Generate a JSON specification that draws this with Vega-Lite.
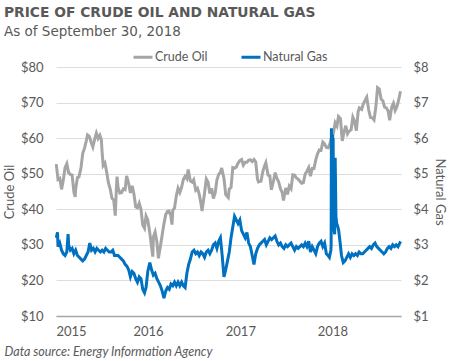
{
"$schema": "https://vega.github.io/schema/vega-lite/v6.json",
"width": 345, "height": 249,
"autosize": {"type": "none"},
"padding": {"left": 56, "top": 67, "right": 49, "bottom": 45},
"background": "white",
"title": {"text": "PRICE OF CRUDE OIL AND NATURAL GAS", "subtitle": "As of September 30, 2018", "anchor": "start", "frame": "group", "dx": -52, "offset": 8,
  "font": "DejaVu Sans", "fontSize": 13.8, "fontWeight": "bold", "color": "#595959",
  "subtitleFont": "DejaVu Sans", "subtitleFontSize": 13.5, "subtitleColor": "#595959", "subtitlePadding": 5},
"datasets": {
"oil": [
{"d":"2015-01-02","v":52.7},{"d":"2015-01-09","v":48.4},{"d":"2015-01-16","v":48.7},{"d":"2015-01-23","v":45.6},{"d":"2015-01-30","v":48.2},
{"d":"2015-02-06","v":51.7},{"d":"2015-02-13","v":52.8},{"d":"2015-02-20","v":50.3},{"d":"2015-02-27","v":49.8},
{"d":"2015-03-06","v":49.6},{"d":"2015-03-13","v":44.8},{"d":"2015-03-18","v":43.5},{"d":"2015-03-20","v":45.7},{"d":"2015-03-27","v":48.9},
{"d":"2015-04-02","v":49.1},{"d":"2015-04-10","v":51.6},{"d":"2015-04-17","v":55.7},{"d":"2015-04-24","v":57.2},
{"d":"2015-05-01","v":59.2},{"d":"2015-05-06","v":60.9},{"d":"2015-05-13","v":60.5},{"d":"2015-05-20","v":58.9},{"d":"2015-05-27","v":57.5},
{"d":"2015-06-03","v":59.6},{"d":"2015-06-10","v":61.4},{"d":"2015-06-17","v":59.9},{"d":"2015-06-24","v":60.8},{"d":"2015-06-30","v":59.5},
{"d":"2015-07-02","v":56.9},{"d":"2015-07-07","v":52.3},{"d":"2015-07-14","v":53.0},{"d":"2015-07-21","v":50.4},{"d":"2015-07-28","v":47.4},
{"d":"2015-08-04","v":45.7},{"d":"2015-08-11","v":43.1},{"d":"2015-08-18","v":42.6},{"d":"2015-08-24","v":38.2},{"d":"2015-08-28","v":45.2},{"d":"2015-08-31","v":49.2},
{"d":"2015-09-04","v":46.1},{"d":"2015-09-11","v":44.6},{"d":"2015-09-18","v":44.7},{"d":"2015-09-25","v":45.7},
{"d":"2015-10-02","v":45.5},{"d":"2015-10-08","v":49.4},{"d":"2015-10-16","v":47.3},{"d":"2015-10-23","v":44.6},{"d":"2015-10-30","v":46.6},
{"d":"2015-11-06","v":44.3},{"d":"2015-11-13","v":40.7},{"d":"2015-11-20","v":40.4},{"d":"2015-11-27","v":41.7},
{"d":"2015-12-04","v":40.0},{"d":"2015-12-11","v":35.6},{"d":"2015-12-18","v":34.7},{"d":"2015-12-24","v":38.1},{"d":"2015-12-31","v":37.0},
{"d":"2016-01-08","v":33.3},{"d":"2016-01-15","v":29.4},{"d":"2016-01-20","v":26.7},{"d":"2016-01-22","v":32.2},{"d":"2016-01-29","v":33.6},
{"d":"2016-02-05","v":30.9},{"d":"2016-02-11","v":26.2},{"d":"2016-02-19","v":29.6},{"d":"2016-02-26","v":32.8},
{"d":"2016-03-04","v":35.9},{"d":"2016-03-11","v":38.5},{"d":"2016-03-18","v":39.4},{"d":"2016-03-24","v":39.5},{"d":"2016-03-31","v":38.3},
{"d":"2016-04-05","v":35.7},{"d":"2016-04-08","v":39.7},{"d":"2016-04-15","v":40.4},{"d":"2016-04-22","v":43.7},{"d":"2016-04-29","v":45.9},
{"d":"2016-05-06","v":44.7},{"d":"2016-05-13","v":46.2},{"d":"2016-05-20","v":48.4},{"d":"2016-05-27","v":49.3},
{"d":"2016-06-03","v":48.6},{"d":"2016-06-08","v":51.2},{"d":"2016-06-17","v":47.9},{"d":"2016-06-24","v":47.6},{"d":"2016-06-30","v":48.3},
{"d":"2016-07-08","v":45.4},{"d":"2016-07-15","v":45.9},{"d":"2016-07-22","v":44.2},{"d":"2016-07-29","v":41.6},
{"d":"2016-08-02","v":39.5},{"d":"2016-08-12","v":44.5},{"d":"2016-08-19","v":48.5},{"d":"2016-08-26","v":47.6},
{"d":"2016-09-02","v":44.4},{"d":"2016-09-09","v":45.9},{"d":"2016-09-16","v":43.0},{"d":"2016-09-23","v":44.5},{"d":"2016-09-30","v":48.2},
{"d":"2016-10-07","v":49.8},{"d":"2016-10-14","v":50.4},{"d":"2016-10-19","v":51.6},{"d":"2016-10-28","v":48.7},
{"d":"2016-11-04","v":44.1},{"d":"2016-11-14","v":43.3},{"d":"2016-11-18","v":45.7},{"d":"2016-11-25","v":46.1},
{"d":"2016-12-02","v":51.7},{"d":"2016-12-09","v":51.5},{"d":"2016-12-16","v":51.9},{"d":"2016-12-23","v":53.0},{"d":"2016-12-30","v":53.7},
{"d":"2017-01-06","v":54.0},{"d":"2017-01-13","v":52.4},{"d":"2017-01-20","v":53.2},{"d":"2017-01-27","v":53.2},
{"d":"2017-02-03","v":53.8},{"d":"2017-02-10","v":53.9},{"d":"2017-02-17","v":53.4},{"d":"2017-02-24","v":54.0},
{"d":"2017-03-03","v":53.3},{"d":"2017-03-10","v":48.5},{"d":"2017-03-14","v":47.7},{"d":"2017-03-24","v":47.9},{"d":"2017-03-31","v":50.6},
{"d":"2017-04-07","v":52.2},{"d":"2017-04-12","v":53.1},{"d":"2017-04-21","v":49.6},{"d":"2017-04-28","v":49.3},
{"d":"2017-05-04","v":45.5},{"d":"2017-05-12","v":47.8},{"d":"2017-05-19","v":50.3},{"d":"2017-05-25","v":48.9},
{"d":"2017-06-02","v":47.7},{"d":"2017-06-09","v":45.8},{"d":"2017-06-16","v":44.7},{"d":"2017-06-21","v":42.5},{"d":"2017-06-30","v":46.0},
{"d":"2017-07-07","v":44.2},{"d":"2017-07-14","v":46.5},{"d":"2017-07-21","v":45.8},{"d":"2017-07-28","v":49.7},
{"d":"2017-08-04","v":49.6},{"d":"2017-08-11","v":48.8},{"d":"2017-08-18","v":48.5},{"d":"2017-08-25","v":47.9},
{"d":"2017-09-01","v":47.3},{"d":"2017-09-08","v":47.5},{"d":"2017-09-15","v":49.9},{"d":"2017-09-22","v":50.7},{"d":"2017-09-29","v":51.7},
{"d":"2017-10-06","v":49.3},{"d":"2017-10-13","v":51.5},{"d":"2017-10-20","v":51.5},{"d":"2017-10-27","v":53.9},
{"d":"2017-11-03","v":55.6},{"d":"2017-11-10","v":56.7},{"d":"2017-11-17","v":56.6},{"d":"2017-11-24","v":58.9},
{"d":"2017-12-01","v":58.4},{"d":"2017-12-08","v":57.4},{"d":"2017-12-15","v":57.3},{"d":"2017-12-22","v":58.4},{"d":"2017-12-29","v":60.4},
{"d":"2018-01-05","v":61.4},{"d":"2018-01-12","v":64.3},{"d":"2018-01-19","v":63.4},{"d":"2018-01-25","v":66.1},
{"d":"2018-02-02","v":65.5},{"d":"2018-02-09","v":59.2},{"d":"2018-02-16","v":61.7},{"d":"2018-02-23","v":63.5},
{"d":"2018-03-02","v":61.2},{"d":"2018-03-09","v":62.0},{"d":"2018-03-16","v":62.3},{"d":"2018-03-23","v":65.9},{"d":"2018-03-29","v":64.9},
{"d":"2018-04-06","v":62.1},{"d":"2018-04-13","v":67.4},{"d":"2018-04-18","v":68.5},{"d":"2018-04-27","v":68.1},
{"d":"2018-05-04","v":69.7},{"d":"2018-05-11","v":70.7},{"d":"2018-05-17","v":71.5},{"d":"2018-05-25","v":67.9},
{"d":"2018-06-01","v":65.8},{"d":"2018-06-08","v":65.7},{"d":"2018-06-15","v":65.1},{"d":"2018-06-22","v":68.6},{"d":"2018-06-29","v":74.2},
{"d":"2018-07-06","v":73.8},{"d":"2018-07-13","v":71.0},{"d":"2018-07-20","v":70.5},{"d":"2018-07-27","v":68.7},
{"d":"2018-08-03","v":68.5},{"d":"2018-08-10","v":67.6},{"d":"2018-08-16","v":65.0},{"d":"2018-08-24","v":68.7},{"d":"2018-08-31","v":69.8},
{"d":"2018-09-07","v":67.8},{"d":"2018-09-14","v":68.9},{"d":"2018-09-21","v":70.8},{"d":"2018-09-28","v":73.2}
],
"gas": [
{"d":"2015-01-02","v":3.2},{"d":"2015-01-07","v":3.35},{"d":"2015-01-09","v":2.95},{"d":"2015-01-16","v":3.05},{"d":"2015-01-23","v":2.85},{"d":"2015-01-30","v":2.75},
{"d":"2015-02-06","v":2.7},{"d":"2015-02-13","v":2.8},{"d":"2015-02-18","v":3.3},{"d":"2015-02-20","v":3.0},{"d":"2015-02-27","v":2.85},
{"d":"2015-03-06","v":2.9},{"d":"2015-03-13","v":2.75},{"d":"2015-03-20","v":2.85},{"d":"2015-03-27","v":2.7},
{"d":"2015-04-03","v":2.65},{"d":"2015-04-10","v":2.6},{"d":"2015-04-17","v":2.55},{"d":"2015-04-24","v":2.6},
{"d":"2015-05-01","v":2.7},{"d":"2015-05-08","v":2.8},{"d":"2015-05-15","v":3.05},{"d":"2015-05-22","v":2.85},{"d":"2015-05-29","v":2.9},
{"d":"2015-06-05","v":2.8},{"d":"2015-06-12","v":2.9},{"d":"2015-06-19","v":2.85},{"d":"2015-06-26","v":2.8},
{"d":"2015-07-03","v":2.85},{"d":"2015-07-10","v":2.8},{"d":"2015-07-17","v":2.9},{"d":"2015-07-24","v":2.85},{"d":"2015-07-31","v":2.8},
{"d":"2015-08-07","v":2.8},{"d":"2015-08-14","v":2.85},{"d":"2015-08-21","v":2.7},{"d":"2015-08-28","v":2.7},
{"d":"2015-09-04","v":2.7},{"d":"2015-09-11","v":2.65},{"d":"2015-09-18","v":2.6},{"d":"2015-09-25","v":2.55},
{"d":"2015-10-02","v":2.45},{"d":"2015-10-09","v":2.4},{"d":"2015-10-16","v":2.3},{"d":"2015-10-23","v":2.1},{"d":"2015-10-30","v":2.25},
{"d":"2015-11-06","v":2.2},{"d":"2015-11-13","v":2.05},{"d":"2015-11-20","v":1.95},{"d":"2015-11-27","v":2.1},
{"d":"2015-12-04","v":2.05},{"d":"2015-12-11","v":1.75},{"d":"2015-12-18","v":1.65},{"d":"2015-12-24","v":1.8},{"d":"2015-12-31","v":2.25},
{"d":"2016-01-08","v":2.5},{"d":"2016-01-15","v":2.3},{"d":"2016-01-22","v":2.15},{"d":"2016-01-29","v":2.2},
{"d":"2016-02-05","v":2.05},{"d":"2016-02-12","v":1.95},{"d":"2016-02-19","v":1.85},{"d":"2016-02-26","v":1.7},
{"d":"2016-03-04","v":1.5},{"d":"2016-03-11","v":1.7},{"d":"2016-03-18","v":1.8},{"d":"2016-03-25","v":1.75},
{"d":"2016-04-01","v":1.9},{"d":"2016-04-08","v":1.85},{"d":"2016-04-15","v":1.95},{"d":"2016-04-22","v":1.85},{"d":"2016-04-29","v":1.95},
{"d":"2016-05-06","v":1.85},{"d":"2016-05-13","v":1.95},{"d":"2016-05-20","v":1.85},{"d":"2016-05-27","v":1.8},
{"d":"2016-06-03","v":2.2},{"d":"2016-06-10","v":2.45},{"d":"2016-06-17","v":2.6},{"d":"2016-06-24","v":2.8},
{"d":"2016-07-01","v":2.85},{"d":"2016-07-08","v":2.75},{"d":"2016-07-15","v":2.8},{"d":"2016-07-22","v":2.7},{"d":"2016-07-29","v":2.8},
{"d":"2016-08-05","v":2.75},{"d":"2016-08-12","v":2.65},{"d":"2016-08-19","v":2.8},{"d":"2016-08-26","v":2.85},
{"d":"2016-09-02","v":2.75},{"d":"2016-09-09","v":2.85},{"d":"2016-09-16","v":3.0},{"d":"2016-09-23","v":3.05},{"d":"2016-09-30","v":2.9},
{"d":"2016-10-07","v":3.1},{"d":"2016-10-14","v":3.2},{"d":"2016-10-21","v":2.7},{"d":"2016-10-28","v":2.1},
{"d":"2016-11-04","v":2.3},{"d":"2016-11-11","v":2.55},{"d":"2016-11-18","v":2.8},{"d":"2016-11-25","v":3.2},
{"d":"2016-12-02","v":3.5},{"d":"2016-12-09","v":3.8},{"d":"2016-12-16","v":3.7},{"d":"2016-12-23","v":3.6},{"d":"2016-12-30","v":3.7},
{"d":"2017-01-06","v":3.4},{"d":"2017-01-13","v":3.3},{"d":"2017-01-20","v":3.2},{"d":"2017-01-27","v":3.35},
{"d":"2017-02-03","v":3.05},{"d":"2017-02-10","v":2.95},{"d":"2017-02-17","v":2.7},{"d":"2017-02-24","v":2.45},
{"d":"2017-03-03","v":2.75},{"d":"2017-03-10","v":2.9},{"d":"2017-03-17","v":3.0},{"d":"2017-03-24","v":3.05},{"d":"2017-03-31","v":3.1},
{"d":"2017-04-07","v":3.15},{"d":"2017-04-14","v":3.0},{"d":"2017-04-21","v":3.1},{"d":"2017-04-28","v":3.2},
{"d":"2017-05-05","v":3.15},{"d":"2017-05-12","v":3.2},{"d":"2017-05-19","v":3.25},{"d":"2017-05-26","v":3.1},
{"d":"2017-06-02","v":3.0},{"d":"2017-06-09","v":3.05},{"d":"2017-06-16","v":2.95},{"d":"2017-06-23","v":2.9},{"d":"2017-06-30","v":3.0},
{"d":"2017-07-07","v":2.95},{"d":"2017-07-14","v":3.0},{"d":"2017-07-21","v":3.05},{"d":"2017-07-28","v":2.95},
{"d":"2017-08-04","v":2.85},{"d":"2017-08-11","v":2.95},{"d":"2017-08-18","v":2.9},{"d":"2017-08-25","v":2.95},
{"d":"2017-09-01","v":3.0},{"d":"2017-09-08","v":2.95},{"d":"2017-09-15","v":3.05},{"d":"2017-09-22","v":2.95},{"d":"2017-09-29","v":3.1},
{"d":"2017-10-06","v":2.8},{"d":"2017-10-13","v":2.95},{"d":"2017-10-20","v":2.85},{"d":"2017-10-27","v":2.75},
{"d":"2017-11-03","v":2.95},{"d":"2017-11-10","v":3.05},{"d":"2017-11-17","v":3.1},{"d":"2017-11-24","v":2.95},
{"d":"2017-12-01","v":3.05},{"d":"2017-12-08","v":2.75},{"d":"2017-12-15","v":2.7},{"d":"2017-12-20","v":2.65},{"d":"2017-12-26","v":2.85},
{"d":"2017-12-27","v":3.0},{"d":"2017-12-28","v":6.28},{"d":"2017-12-29","v":5.5},{"d":"2018-01-02","v":6.1},{"d":"2018-01-03","v":4.5},{"d":"2018-01-04","v":6.0},
{"d":"2018-01-05","v":3.6},{"d":"2018-01-08","v":3.4},{"d":"2018-01-10","v":3.3},{"d":"2018-01-12","v":5.45},{"d":"2018-01-15","v":3.8},{"d":"2018-01-18","v":3.6},
{"d":"2018-01-23","v":3.5},{"d":"2018-01-26","v":3.4},{"d":"2018-01-31","v":3.1},
{"d":"2018-02-06","v":2.7},{"d":"2018-02-13","v":2.5},{"d":"2018-02-20","v":2.55},{"d":"2018-02-27","v":2.65},
{"d":"2018-03-06","v":2.75},{"d":"2018-03-13","v":2.65},{"d":"2018-03-20","v":2.75},{"d":"2018-03-27","v":2.7},
{"d":"2018-04-03","v":2.75},{"d":"2018-04-10","v":2.7},{"d":"2018-04-17","v":2.8},{"d":"2018-04-24","v":2.75},
{"d":"2018-05-01","v":2.75},{"d":"2018-05-08","v":2.8},{"d":"2018-05-15","v":2.85},{"d":"2018-05-22","v":2.9},{"d":"2018-05-29","v":2.95},
{"d":"2018-06-05","v":2.9},{"d":"2018-06-12","v":3.0},{"d":"2018-06-19","v":3.05},{"d":"2018-06-26","v":2.95},
{"d":"2018-07-03","v":2.9},{"d":"2018-07-10","v":2.85},{"d":"2018-07-17","v":2.8},{"d":"2018-07-24","v":2.75},{"d":"2018-07-31","v":2.8},
{"d":"2018-08-07","v":2.9},{"d":"2018-08-14","v":2.95},{"d":"2018-08-21","v":2.9},{"d":"2018-08-28","v":3.0},
{"d":"2018-09-04","v":2.95},{"d":"2018-09-11","v":3.0},{"d":"2018-09-18","v":2.95},{"d":"2018-09-25","v":3.05},{"d":"2018-09-28","v":3.1}
]
},
"layer": [
{"data": {"name": "oil"},
 "mark": {"type": "line", "strokeWidth": 3, "interpolate": "linear"},
 "encoding": {
  "x": {"field": "d", "type": "temporal", "scale": {"domain": ["2015-01-01", "2018-09-30"], "nice": false},
        "axis": {"values": ["2015-01-01", "2016-01-01", "2017-01-01", "2018-01-01"], "format": "%Y", "ticks": false, "grid": false,
                 "domainColor": "#A6A6A6", "domainWidth": 1.5, "labelPadding": 9,
                 "title": "Data source: Energy Information Agency", "titleAnchor": "start", "titleX": -52, "titleY": 39,
                 "titleBaseline": "alphabetic", "titleFontStyle": "italic", "titleFontWeight": "normal", "titleFontSize": 12.5}},
  "y": {"field": "v", "type": "quantitative", "scale": {"domain": [10, 80], "nice": false},
        "axis": {"values": [10, 20, 30, 40, 50, 60, 70, 80], "format": "$.0f", "title": "Crude Oil", "grid": true, "domain": false, "ticks": false, "labelPadding": 13, "titlePadding": 4}},
  "color": {"datum": "Crude Oil", "type": "nominal",
            "scale": {"domain": ["Crude Oil", "Natural Gas"], "range": ["#A5A5A5", "#0070C0"]},
            "legend": {"orient": "none", "legendX": 76, "legendY": -21, "direction": "horizontal", "title": null,
                       "symbolType": "stroke", "symbolSize": 361, "symbolStrokeWidth": 3, "labelOffset": 1, "columnPadding": 27,
                       "labelFontSize": 12.5, "labelColor": "#595959", "labelFont": "Lato"}}
 }},
{"data": {"name": "gas"},
 "mark": {"type": "line", "strokeWidth": 3, "interpolate": "linear"},
 "encoding": {
  "x": {"field": "d", "type": "temporal"},
  "y": {"field": "v", "type": "quantitative", "scale": {"domain": [1, 8], "nice": false},
        "axis": {"orient": "right", "values": [1, 2, 3, 4, 5, 6, 7, 8], "format": "$.0f", "title": "Natural Gas", "grid": false, "domain": false, "ticks": false, "labelPadding": 12, "titlePadding": 4}},
  "color": {"datum": "Natural Gas", "type": "nominal"}
 }}
],
"resolve": {"scale": {"y": "independent"}},
"config": {
  "view": {"stroke": null},
  "axis": {"labelFont": "Lato", "labelFontSize": 13, "labelColor": "#595959", "titleFont": "Lato", "titleFontSize": 13, "titleColor": "#595959", "titleFontWeight": "normal", "gridColor": "#DDDDDD", "gridWidth": 1},
  "legend": {"padding": 0}
}
}
